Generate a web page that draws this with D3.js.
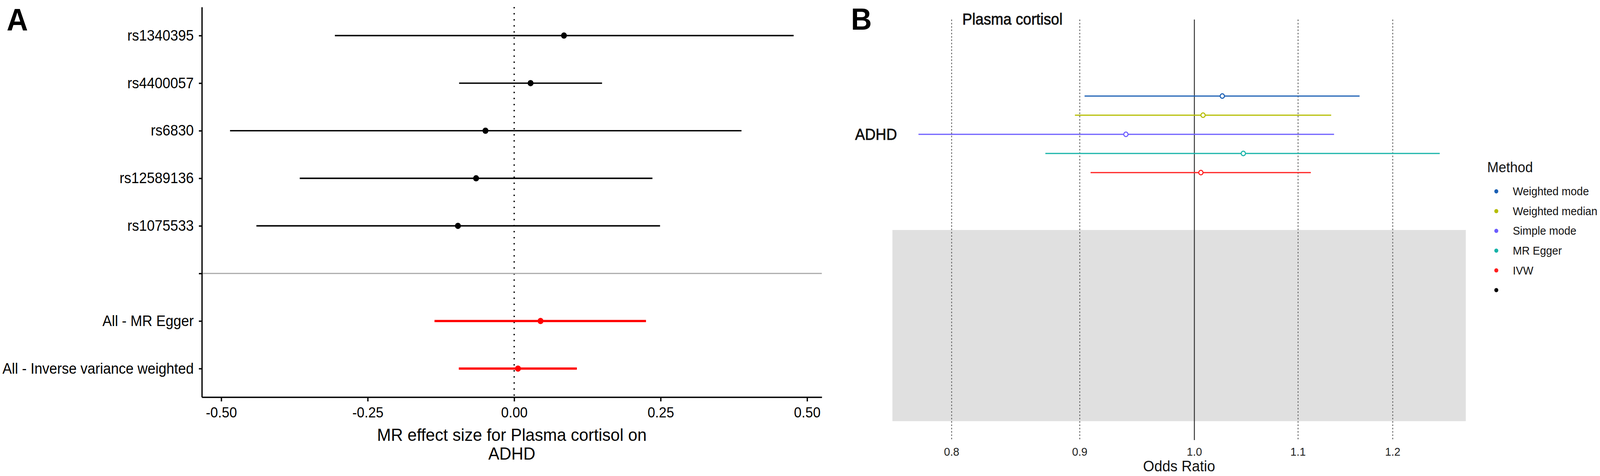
<!DOCTYPE html>
<html>
<head>
<meta charset="utf-8">
<script src="https://cdn.jsdelivr.net/npm/d3@7"></script>
<style>
  html, body { margin: 0; padding: 0; background: #ffffff; overflow: hidden; width: 100%; height: 100%; }
  svg { display: block; width: 100vw; height: 100vh; }
  text { font-family: "Liberation Sans", Arial, sans-serif; }
</style>
</head>
<body>
<script>
// ---------- Panel A data (MR effect sizes) ----------
const snpLabels   = ["rs1340395", "rs4400057", "rs6830", "rs12589136", "rs1075533"];
const snpBeta     = [0.085, 0.028, -0.049, -0.065, -0.096];
const snpLower    = [-0.306, -0.094, -0.485, -0.366, -0.440];
const snpUpper    = [0.477, 0.150, 0.388, 0.236, 0.249];

const summaryLabels = ["All - MR Egger", "All - Inverse variance weighted"];
const summaryBeta   = [0.045, 0.0065];
const summaryLower  = [-0.136, -0.0945];
const summaryUpper  = [0.225, 0.107];

const xTicksA = [-0.50, -0.25, 0.00, 0.25, 0.50];
const xTitleA = ["MR effect size for Plasma cortisol on", "ADHD"];

// ---------- Panel B data (odds ratios by method) ----------
const methods      = ["Weighted mode", "Weighted median", "Simple mode", "MR Egger", "IVW"];
const methodOR     = [1.026, 1.008, 0.939, 1.046, 1.006];
const methodLower  = [0.904, 0.896, 0.776, 0.872, 0.909];
const methodUpper  = [1.164, 1.134, 1.137, 1.253, 1.113];
const methodColors = ["#1a5fb4", "#b5bd00", "#6c5cff", "#16b3a8", "#ff1e1e"];
const orTicks      = [0.8, 0.9, 1.0, 1.1, 1.2];
const outcomeLabel = "ADHD";
const exposureLabel = "Plasma cortisol";
const legendTitle  = "Method";

// ---------- Canvas ----------
const W = 4328, H = 1219;
const svg = d3.select("body").append("svg")
  .attr("viewBox", `0 0 ${W} ${H}`)
  .attr("preserveAspectRatio", "none");
svg.append("rect").attr("width", W).attr("height", H).attr("fill", "#ffffff");

// ================= PANEL A =================
const A = { left: 546, right: 2223, top: 18, bottom: 1017 };
const gA = svg.append("g");

gA.append("text").attr("x", 18).attr("y", 78)
  .attr("font-size", 80).attr("font-weight", "bold").text("A");

const allLo = snpLower.concat(summaryLower), allHi = snpUpper.concat(summaryUpper);
const lo = d3.min(allLo), hi = d3.max(allHi), pad = (hi - lo) * 0.05;
const xA = d3.scaleLinear().domain([lo - pad, hi + pad]).range([A.left, A.right]);

const rowsA = snpLabels.concat([""], summaryLabels);
const yA = d3.scalePoint().domain(rowsA).range([A.top, A.bottom]).padding(0.6);

// zero dotted line
gA.append("line")
  .attr("x1", xA(0)).attr("x2", xA(0)).attr("y1", A.top).attr("y2", A.bottom)
  .attr("stroke", "#000").attr("stroke-width", 3.5).attr("stroke-dasharray", "3.5,12");

// grey separator on the blank row
gA.append("line")
  .attr("x1", A.left).attr("x2", A.right).attr("y1", yA("")).attr("y2", yA(""))
  .attr("stroke", "#aaaaaa").attr("stroke-width", 3);

const snpData = snpLabels.map((s, i) => ({ lab: s, b: snpBeta[i], lo: snpLower[i], hi: snpUpper[i] }));
const sumData = summaryLabels.map((s, i) => ({ lab: s, b: summaryBeta[i], lo: summaryLower[i], hi: summaryUpper[i] }));

gA.selectAll("line.snp").data(snpData).enter().append("line").attr("class", "snp")
  .attr("x1", d => xA(d.lo)).attr("x2", d => xA(d.hi))
  .attr("y1", d => yA(d.lab)).attr("y2", d => yA(d.lab))
  .attr("stroke", "#000").attr("stroke-width", 3.6);
gA.selectAll("line.sum").data(sumData).enter().append("line").attr("class", "sum")
  .attr("x1", d => xA(d.lo)).attr("x2", d => xA(d.hi))
  .attr("y1", d => yA(d.lab)).attr("y2", d => yA(d.lab))
  .attr("stroke", "#ff0000").attr("stroke-width", 5.8);
gA.selectAll("circle.snp").data(snpData).enter().append("circle").attr("class", "snp")
  .attr("cx", d => xA(d.b)).attr("cy", d => yA(d.lab)).attr("r", 8).attr("fill", "#000");
gA.selectAll("circle.sum").data(sumData).enter().append("circle").attr("class", "sum")
  .attr("cx", d => xA(d.b)).attr("cy", d => yA(d.lab)).attr("r", 8).attr("fill", "#ff0000");

// axes
const yAxisA = gA.append("g").attr("transform", `translate(${A.left},0)`)
  .call(d3.axisLeft(yA).tickSize(8).tickSizeOuter(0).tickPadding(14));
yAxisA.select(".domain").attr("stroke", "#000").attr("stroke-width", 3.5);
yAxisA.selectAll(".tick line").attr("stroke", "#000").attr("stroke-width", 3.5);
yAxisA.selectAll(".tick text").attr("font-size", 38).attr("fill", "#000")
  .attr("font-family", "'Liberation Sans', Arial, sans-serif");

const xAxisA = gA.append("g").attr("transform", `translate(0,${A.bottom})`)
  .call(d3.axisBottom(xA).tickValues(xTicksA).tickFormat(d => d.toFixed(2)).tickSize(11).tickSizeOuter(0).tickPadding(15));
xAxisA.select(".domain").attr("stroke", "#000").attr("stroke-width", 3.5);
xAxisA.selectAll(".tick line").attr("stroke", "#000").attr("stroke-width", 3.5);
xAxisA.selectAll(".tick text").attr("font-size", 37).attr("fill", "#000")
  .attr("font-family", "'Liberation Sans', Arial, sans-serif");

const cxA = (A.left + A.right) / 2;
gA.selectAll("text.xtitle").data(xTitleA).enter().append("text").attr("class", "xtitle")
  .attr("x", cxA).attr("y", (d, i) => 1113 + i * 48)
  .attr("text-anchor", "middle").attr("dominant-baseline", "central")
  .attr("font-size", 45).text(d => d);

// ================= PANEL B =================
const B = { left: 2414, right: 3965, lineTop: 50, lineBottom: 1127, greyTop: 589, greyBottom: 1078.5 };
const gB = svg.append("g");

gB.append("text").attr("x", 2302).attr("y", 76)
  .attr("font-size", 78).attr("font-weight", "bold").text("B");

const lLo = Math.log(d3.min(methodLower)), lHi = Math.log(d3.max(methodUpper)), lPad = (lHi - lLo) * 0.05;
const xB = d3.scaleLog().domain([Math.exp(lLo - lPad), Math.exp(lHi + lPad)]).range([B.left, B.right]);
const yB = d3.scalePoint().domain(methods).range([246, 442]);

// grey empty panel
gB.append("rect")
  .attr("x", xB.range()[0]).attr("y", B.greyTop)
  .attr("width", xB.range()[1] - xB.range()[0]).attr("height", B.greyBottom - B.greyTop)
  .attr("fill", "#e0e0e0");

// reference lines
gB.selectAll("line.ref").data(orTicks).enter().append("line").attr("class", "ref")
  .attr("x1", d => xB(d)).attr("x2", d => xB(d))
  .attr("y1", B.lineTop).attr("y2", B.lineBottom)
  .attr("stroke", d => d === 1 ? "#333333" : "#666666")
  .attr("stroke-width", d => d === 1 ? 2.6 : 2.4)
  .attr("stroke-dasharray", d => d === 1 ? null : "4,4.5");

// tick labels
gB.selectAll("text.orTick").data(orTicks).enter().append("text").attr("class", "orTick")
  .attr("x", d => xB(d)).attr("y", 1157)
  .attr("text-anchor", "middle").attr("dominant-baseline", "central")
  .attr("font-size", 30).attr("fill", "#222").text(d => d.toFixed(1));

gB.append("text").attr("x", (B.left + B.right) / 2).attr("y", 1194)
  .attr("text-anchor", "middle").attr("dominant-baseline", "central")
  .attr("font-size", 39).attr("fill", "#111").text("Odds Ratio");

gB.append("text").attr("x", 2603).attr("y", 49)
  .attr("dominant-baseline", "central")
  .attr("font-size", 40).attr("fill", "#111")
  .attr("stroke", "#111").attr("stroke-width", 0.9).text(exposureLabel);

gB.append("text").attr("x", 2313).attr("y", yB(methods[2]))
  .attr("dominant-baseline", "central")
  .attr("font-size", 40).attr("fill", "#111")
  .attr("stroke", "#111").attr("stroke-width", 0.9).text(outcomeLabel);

const mData = methods.map((m, i) => ({ m, or: methodOR[i], lo: methodLower[i], hi: methodUpper[i], c: methodColors[i] }));
gB.selectAll("line.ci").data(mData).enter().append("line").attr("class", "ci")
  .attr("x1", d => xB(d.lo)).attr("x2", d => xB(d.hi))
  .attr("y1", d => yB(d.m)).attr("y2", d => yB(d.m))
  .attr("stroke", d => d.c).attr("stroke-width", 3.2);
gB.selectAll("circle.pt").data(mData).enter().append("circle").attr("class", "pt")
  .attr("cx", d => xB(d.or)).attr("cy", d => yB(d.m)).attr("r", 5.8)
  .attr("fill", "#ffffff").attr("stroke", d => d.c).attr("stroke-width", 2.8);

// legend
const gL = svg.append("g");
gL.append("text").attr("x", 4023).attr("y", 428).attr("dominant-baseline", "central")
  .attr("font-size", 37).attr("fill", "#111").text(legendTitle);
const legItems = methods.map((m, i) => ({ lab: m, c: methodColors[i] })).concat([{ lab: "", c: "#000000" }]);
const yLeg = d3.scalePoint().domain(d3.range(legItems.length)).range([490, 743]);
gL.selectAll("circle.leg").data(legItems).enter().append("circle").attr("class", "leg")
  .attr("cx", 4047.5).attr("cy", (d, i) => yLeg(i)).attr("r", 5.4).attr("fill", d => d.c);
gL.selectAll("text.leg").data(legItems).enter().append("text").attr("class", "leg")
  .attr("x", 4092).attr("y", (d, i) => yLeg(i)).attr("dominant-baseline", "central")
  .attr("font-size", 29.5).attr("fill", "#111").text(d => d.lab);
</script>
</body>
</html>
